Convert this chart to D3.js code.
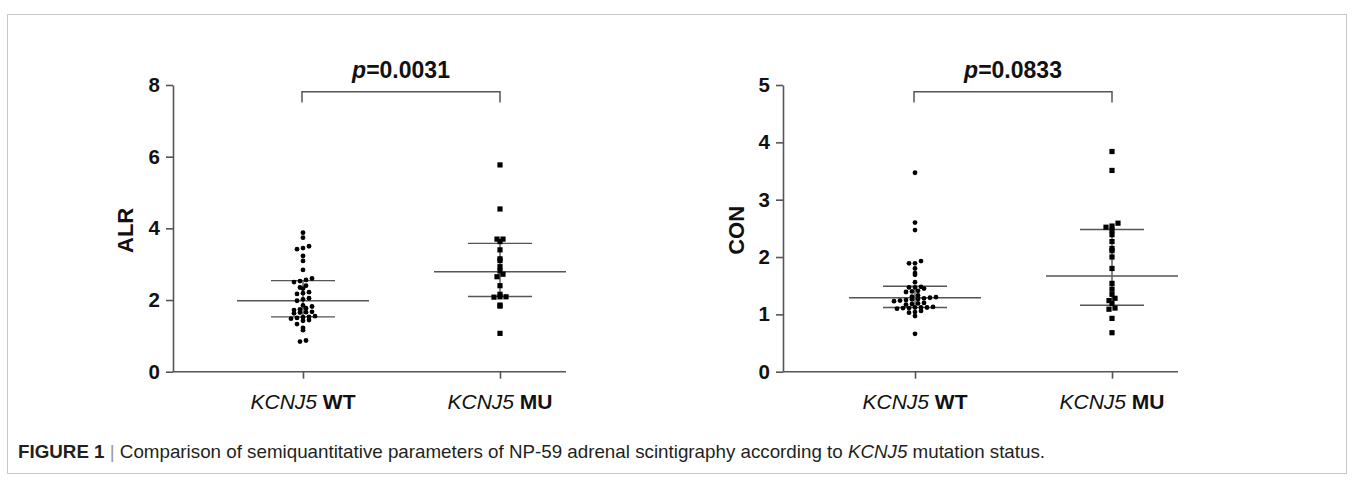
<!DOCTYPE html>
<html><head><meta charset="utf-8">
<script src="https://cdn.jsdelivr.net/npm/d3@7/dist/d3.min.js"></script>
<style>
html,body{margin:0;padding:0;background:#fff;}
svg{display:block;}
</style></head>
<body>
<svg id="c" width="1355" height="480"></svg>
<script>
// ---------- DATA ----------
const categories = ["WT", "MU"];
const alrWT = [3.88,3.74,3.50,3.45,3.42,3.23,3.09,2.84,2.60,2.56,2.53,2.50,2.40,2.35,2.32,2.22,2.19,2.17,2.05,2.02,1.98,1.85,1.82,1.77,1.74,1.72,1.67,1.66,1.65,1.63,1.55,1.53,1.52,1.50,1.48,1.44,1.42,1.33,1.22,1.16,0.87,0.84];
const alrMU = [5.77,4.54,3.70,3.70,3.63,3.40,3.15,3.10,2.93,2.81,2.72,2.65,2.40,2.16,2.09,2.09,2.08,1.86,1.83,1.07];
const conWT = [3.47,2.60,2.47,1.93,1.89,1.89,1.80,1.72,1.69,1.56,1.48,1.47,1.47,1.45,1.41,1.40,1.39,1.33,1.31,1.30,1.29,1.28,1.27,1.26,1.25,1.24,1.23,1.20,1.19,1.18,1.17,1.13,1.12,1.12,1.12,1.11,1.11,1.10,1.06,1.04,1.03,0.97,0.66];
const conMU = [3.84,3.51,2.59,2.54,2.52,2.47,2.39,2.27,2.15,2.11,2.00,1.80,1.54,1.44,1.35,1.28,1.24,1.19,1.11,1.09,0.93,0.68];
const alrMean = [1.98, 2.79];
const alrUpper = [2.54, 3.58];
const alrLower = [1.53, 2.10];
const conMean = [1.29, 1.67];
const conUpper = [1.49, 2.48];
const conLower = [1.12, 1.16];
const alrTicks = [0, 2, 4, 6, 8];
const conTicks = [0, 1, 2, 3, 4, 5];
const pLabels = ["0.0031", "0.0833"];
const yLabels = ["ALR", "CON"];

// ---------- DRAW ----------
const svg = d3.select("#c");
const AX = "#555";
svg.append("rect").attr("x", 7.5).attr("y", 14.5).attr("width", 1339).attr("height", 459)
  .attr("fill", "none").attr("stroke", "#c8c8c8").attr("stroke-width", 1);

function panel(opt) {
  const g = svg.append("g");
  const y = d3.scaleLinear().domain([0, opt.ymax]).range([371.7, 85]);
  const x = d3.scalePoint().domain(categories).range(opt.catRange);
  // y axis
  const ya = g.append("g").attr("transform", `translate(${opt.axX},0)`)
    .call(d3.axisLeft(y).tickValues(opt.ticks).tickFormat(d3.format("d"))
      .tickSize(7).tickSizeOuter(0).tickPadding(6));
  ya.select(".domain").attr("stroke", AX).attr("stroke-width", 1.6);
  ya.selectAll(".tick line").attr("stroke", AX).attr("stroke-width", 1.6);
  ya.selectAll(".tick text").attr("font-family", "Liberation Sans, Arial, sans-serif")
    .attr("font-weight", "bold").attr("font-size", 20.5).attr("fill", "#111");
  // x axis line
  g.append("line").attr("x1", opt.axX).attr("x2", opt.axEnd).attr("y1", y(0)).attr("y2", y(0))
    .attr("stroke", AX).attr("stroke-width", 1.6);
  const xa = g.append("g").attr("transform", `translate(0,${y(0)})`)
    .call(d3.axisBottom(x).tickSize(7).tickSizeOuter(0).tickFormat(""));
  xa.select(".domain").remove();
  xa.selectAll(".tick line").attr("stroke", AX).attr("stroke-width", 1.6);
  // x labels
  categories.forEach(c => {
    const t = g.append("text").attr("x", x(c)).attr("y", 409).attr("text-anchor", "middle")
      .attr("font-family", "Liberation Sans Narrow, Arial Narrow, Liberation Sans, sans-serif")
      .attr("font-size", 21).attr("fill", "#111");
    t.append("tspan").attr("font-style", "italic").text("KCNJ5");
    t.append("tspan").text("\u00a0");
    t.append("tspan").attr("font-weight", "bold").text(c);
  });
  // y label
  g.append("text").attr("transform", `translate(${opt.labX},${(y(0) + y(opt.ymax)) / 2 + 2}) rotate(-90)`)
    .attr("text-anchor", "middle").attr("font-family", "Liberation Sans, Arial, sans-serif")
    .attr("font-weight", "bold").attr("font-size", 22).attr("fill", "#111").text(opt.ylab);
  // bracket
  const bx0 = x(categories[0]) - 1, bx1 = x(categories[1]);
  g.append("path").attr("d", `M${bx0},102.5V91.7H${bx1}V102.5`).attr("fill", "none")
    .attr("stroke", AX).attr("stroke-width", 1.5);
  const pt = g.append("text").attr("x", (bx0 + bx1) / 2).attr("y", 77.5).attr("text-anchor", "middle")
    .attr("font-family", "Liberation Sans, Arial, sans-serif").attr("font-weight", "bold")
    .attr("font-size", 23).attr("fill", "#111");
  pt.append("tspan").attr("font-style", "italic").text("p");
  pt.append("tspan").text("=" + opt.p);
  // error bars
  categories.forEach((c, i) => {
    const cx = x(c);
    g.append("line").attr("x1", cx).attr("x2", cx).attr("y1", y(opt.lower[i])).attr("y2", y(opt.upper[i]))
      .attr("stroke", AX).attr("stroke-width", 1.4);
    [[opt.mean[i], 66], [opt.upper[i], 32], [opt.lower[i], 32]].forEach(([v, hw]) => {
      g.append("line").attr("x1", cx - hw).attr("x2", cx + hw).attr("y1", y(v)).attr("y2", y(v))
        .attr("stroke", AX).attr("stroke-width", 1.4);
    });
  });
  // swarm points
  function swarm(vals) {
    const pts = vals.map(v => ({ v, py: y(v) })).sort((a, b) => b.py - a.py);
    const bins = d3.groups(pts, p => Math.round(p.py / 4.6));
    const out = [];
    bins.forEach(([k, arr]) => {
      const n = arr.length;
      arr.forEach((p, j) => {
        out.push({ v: p.v, py: p.py, off: (j - (n - 1) / 2) * 6 });
      });
    });
    return out;
  }
  const wt = swarm(opt.data[0]);
  g.selectAll("circle.wt").data(wt).enter().append("circle")
    .attr("cx", d => x(categories[0]) + d.off).attr("cy", d => d.py).attr("r", 2.4).attr("fill", "#000");
  const mu = swarm(opt.data[1]);
  g.selectAll("rect.mu").data(mu).enter().append("rect")
    .attr("x", d => x(categories[1]) + d.off - 2.6).attr("y", d => d.py - 2.6)
    .attr("width", 5.2).attr("height", 5.2).attr("fill", "#000");
}

panel({ ymax: 8, ticks: alrTicks, axX: 173, axEnd: 566, catRange: [303, 500], labX: 133,
  ylab: yLabels[0], p: pLabels[0], data: [alrWT, alrMU], mean: alrMean, upper: alrUpper, lower: alrLower });
panel({ ymax: 5, ticks: conTicks, axX: 783, axEnd: 1178, catRange: [915, 1112], labX: 744,
  ylab: yLabels[1], p: pLabels[1], data: [conWT, conMU], mean: conMean, upper: conUpper, lower: conLower });

// caption
const cap = svg.append("text").attr("x", 18).attr("y", 458)
  .attr("font-family", "Liberation Sans Narrow, Arial Narrow, Liberation Sans, sans-serif")
  .attr("font-size", 16).attr("fill", "#231f20");
cap.append("tspan").attr("font-weight", "bold").text("FIGURE 1");
cap.append("tspan").attr("fill", "#999").text(" | ");
cap.append("tspan").text("Comparison of semiquantitative parameters of NP-59 adrenal scintigraphy according to ");
cap.append("tspan").attr("font-style", "italic").text("KCNJ5");
cap.append("tspan").text(" mutation status.");
const w = cap.node().getComputedTextLength();
cap.attr("font-size", 16 * 1028 / w);
</script>
</body></html>
